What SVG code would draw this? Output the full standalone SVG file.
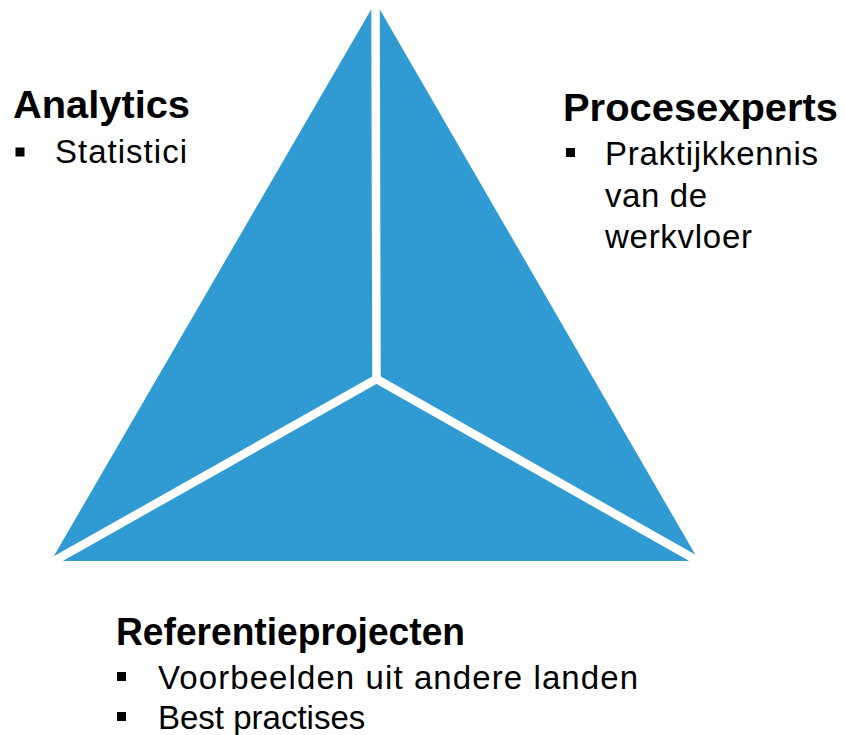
<svg xmlns="http://www.w3.org/2000/svg" width="845" height="735" viewBox="0 0 845 735">
<style>
.h{font-family:"Liberation Sans",Arial,sans-serif;font-weight:bold;font-size:38.5px;fill:#000}
.b{font-family:"Liberation Sans",Arial,sans-serif;font-size:33px;fill:#000}
.sep{stroke:#fff;stroke-width:8.5;fill:none;stroke-linecap:butt}
</style>
<rect width="845" height="735" fill="#fff"/>
<g id="pyramid">
<polygon points="375.5,2 51,561 699,561" fill="#2F9BD2"/>
</g>
<g id="connectors">
<line class="sep" x1="376.5" y1="381" x2="375.5" y2="-2"/>
<line class="sep" x1="376.5" y1="379" x2="47" y2="565"/>
<line class="sep" x1="376.5" y1="379" x2="705" y2="565"/>
</g>
<g id="analytics">
<text class="h" x="13" y="118" textLength="177" lengthAdjust="spacingAndGlyphs">Analytics</text>
<rect x="15.5" y="147.5" width="9" height="9"/>
<text class="b" x="55" y="163" textLength="132">Statistici</text>
</g>
<g id="procesexperts">
<text class="h" x="563" y="121" textLength="275" lengthAdjust="spacingAndGlyphs">Procesexperts</text>
<rect x="566" y="148" width="9" height="9"/>
<text class="b" x="605" y="165" textLength="213">Praktijkkennis</text>
<text class="b" x="605" y="207" textLength="102">van de</text>
<text class="b" x="605" y="248" textLength="147">werkvloer</text>
</g>
<g id="referentieprojecten">
<text class="h" x="116" y="645" textLength="349" lengthAdjust="spacingAndGlyphs">Referentieprojecten</text>
<rect x="117" y="672" width="9" height="9"/>
<text class="b" x="158" y="689" textLength="480">Voorbeelden uit andere landen</text>
<rect x="117" y="712" width="9" height="9"/>
<text class="b" x="158" y="729">Best practises</text>
</g>
</svg>
